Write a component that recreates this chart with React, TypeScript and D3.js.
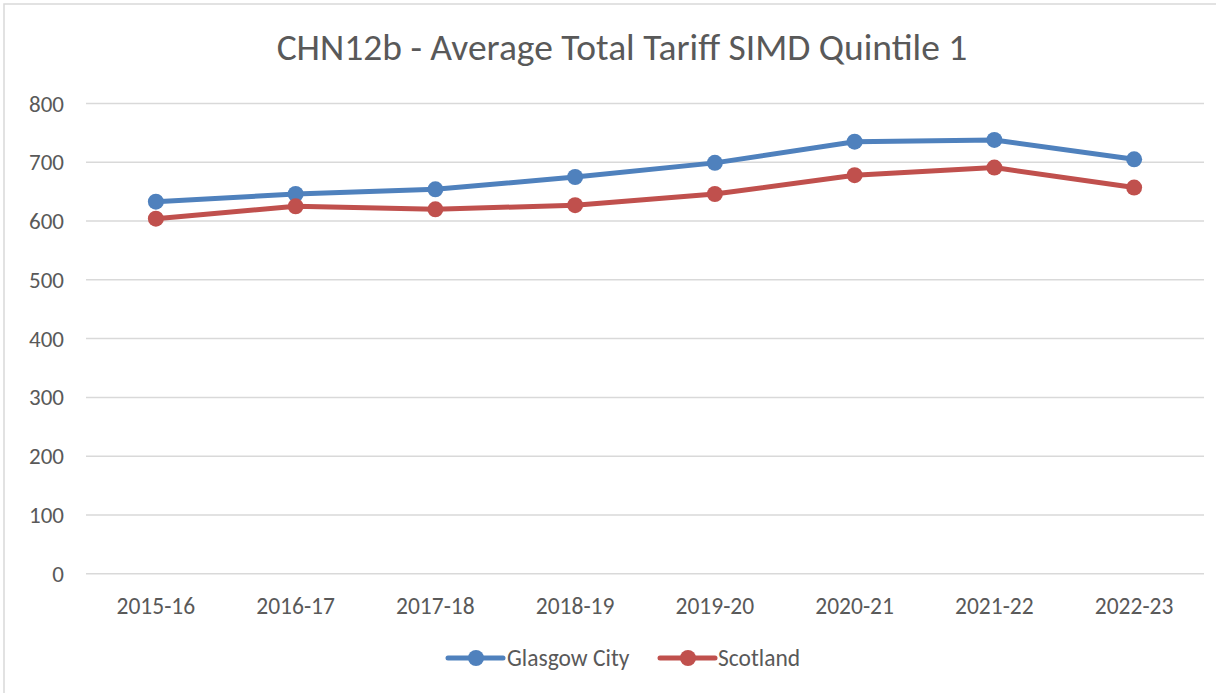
import React from "react";
import * as d3 from "d3";

const categories = ["2015-16", "2016-17", "2017-18", "2018-19", "2019-20", "2020-21", "2021-22", "2022-23"];
const glasgow = [633, 646, 654, 675, 699, 735, 738, 705];
const scotland = [604, 625, 620, 627, 646, 678, 691, 657];
const yTicks = [0, 100, 200, 300, 400, 500, 600, 700, 800];
const series = [
  { name: "Glasgow City", values: glasgow, color: "#4F81BD" },
  { name: "Scotland", values: scotland, color: "#C0504D" },
];

const W = 1216, H = 693;
const FONT = "Calibri, Carlito, 'Open Sans', sans-serif";

export default function App() {
  const x = d3.scaleBand().domain(categories).range([86, 1204]);
  const y = d3.scaleLinear().domain([0, 800]).range([573.7, 103.5]);
  const line = d3.line<number>().x((_, i) => x(categories[i])! + x.bandwidth() / 2).y((d) => y(d));
  const legend = [
    { lx: 448, tx: 507 },
    { lx: 660, tx: 718 },
  ];
  return (
    <svg width={W} height={H} style={{ position: "absolute", left: 0, top: 0, fontFamily: FONT }}>
      <rect x={0} y={0} width={W} height={H} fill="#fff" />
      <rect x={4} y={4} width={W + 10} height={H + 10} fill="#fff" stroke="#d9d9d9" strokeWidth={1.5} />
      <text x={622} y={60} textAnchor="middle" fontSize={37.5} fill="#595959">
        CHN12b - Average Total Tariff SIMD Quintile 1
      </text>
      {yTicks.map((t) => (
        <g key={t}>
          <line x1={86} x2={1204} y1={y(t)} y2={y(t)} stroke="#d9d9d9" strokeWidth={1.5} />
          <text x={64} y={y(t) + 8} textAnchor="end" fontSize={23} fill="#595959">{t}</text>
        </g>
      ))}
      {categories.map((c) => (
        <text key={c} x={x(c)! + x.bandwidth() / 2} y={614} textAnchor="middle" fontSize={23.5} fill="#595959">{c}</text>
      ))}
      {series.map((s) => (
        <g key={s.name}>
          <path d={line(s.values)!} fill="none" stroke={s.color} strokeWidth={5} strokeLinejoin="round" />
          {s.values.map((v, i) => (
            <circle key={i} cx={x(categories[i])! + x.bandwidth() / 2} cy={y(v)} r={8} fill={s.color} />
          ))}
        </g>
      ))}
      {series.map((s, i) => (
        <g key={s.name}>
          <line x1={legend[i].lx} x2={legend[i].lx + 55} y1={658} y2={658} stroke={s.color} strokeWidth={5} strokeLinecap="round" />
          <circle cx={legend[i].lx + 28} cy={658} r={8} fill={s.color} />
          <text x={legend[i].tx} y={666} fontSize={23.5} fill="#595959">{s.name}</text>
        </g>
      ))}
    </svg>
  );
}
